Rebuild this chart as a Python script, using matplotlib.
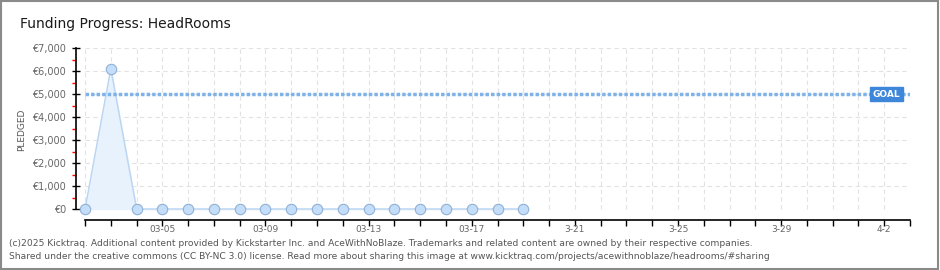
import matplotlib
matplotlib.use("Agg")
import matplotlib.pyplot as plt
from matplotlib.patches import Rectangle

# data (day 0 = 03-02)
days = list(range(18))
pledged = [0, 6100, 0, 0, 0, 0, 0, 0, 0, 0, 0, 0, 0, 0, 0, 0, 0, 0]
goal = 5000
n_days = 32
tick_labels = ["03-05", "03-09", "03-13", "03-17", "3-21", "3-25", "3-29", "4-2"]
tick_days = [3, 7, 11, 15, 19, 23, 27, 31]
y_ticks = [0, 1000, 2000, 3000, 4000, 5000, 6000, 7000]
y_labels = ["€0", "€1,000", "€2,000", "€3,000", "€4,000", "€5,000", "€6,000", "€7,000"]

fig = plt.figure(figsize=(9.4, 2.7), dpi=100)
fig.patch.set_facecolor("white")

# outer frame
fig.add_artist(Rectangle((0.001, 0.004), 0.997, 0.992, transform=fig.transFigure,
                         fill=False, edgecolor="#8a8a8a", linewidth=1.5))

ax = fig.add_axes([76 / 940, 1 - 220 / 270, (910 - 76) / 940, (220 - 48) / 270])
ax.set_xlim(-0.35, n_days)
ax.set_ylim(-478, 7000)

# grid
for d in range(n_days + 1):
    ax.plot([d, d], [0, 7000], color="#e2e2e2", lw=0.8, ls=(0, (4, 3)), zorder=0)
for v in y_ticks[1:]:
    ax.plot([0, n_days], [v, v], color="#e2e2e2", lw=0.8, ls=(0, (4, 3)), zorder=0)

# series
ax.fill_between(days, pledged, 0, color="#e8f2fc", zorder=1)
ax.plot(days, pledged, color="#b9d5f2", lw=1, zorder=2)
ax.plot(days, pledged, "o", ms=7.5, mfc="#c4defa", mec="#8fb0d6", mew=0.8, zorder=3)

# goal line
ax.plot([0, n_days], [goal, goal], color="#7fb2e8", lw=2.5, ls=(0, (1, 0.6)), zorder=2)
ax.text(31.1, goal, "GOAL", color="white", fontsize=6.5, ha="center", va="center",
        fontweight="bold", zorder=5,
        bbox=dict(boxstyle="square,pad=0.3", fc="#3d86d9", ec="#3d86d9"))

# spines / ticks
for s in ["top", "right"]:
    ax.spines[s].set_visible(False)
ax.spines["left"].set_bounds(0, 7000)
ax.spines["bottom"].set_bounds(0, n_days)
ax.spines["left"].set_linewidth(1.2)
ax.spines["bottom"].set_linewidth(1.2)

ax.set_xticks(range(n_days + 1))
ax.set_xticklabels([""] * (n_days + 1))
ax.tick_params(axis="x", direction="out", length=4, width=1)
for d, lab in zip(tick_days, tick_labels):
    ax.annotate(lab, xy=(d, 0), xycoords=("data", "axes fraction"), xytext=(0, -3.5),
                textcoords="offset points", ha="center", va="top", fontsize=6.5,
                color="#666666")

ax.set_yticks(y_ticks)
ax.set_yticklabels(y_labels, fontsize=7, color="#666666")
ax.set_yticks([500 + 1000 * i for i in range(7)], minor=True)
ax.tick_params(axis="y", which="major", direction="inout", length=6, width=1, pad=4)
ax.tick_params(axis="y", which="minor", direction="out", length=3, width=1, color="red")

fig.text(22 / 940, 1 - 130 / 270, "PLEDGED", rotation=90, ha="center", va="center",
         fontsize=6.5, color="#555555")

fig.text(20 / 940, 1 - 24 / 270, "Funding Progress: HeadRooms", fontsize=10,
         color="#1a1a1a", va="center", ha="left")

footer = ("(c)2025 Kicktraq. Additional content provided by Kickstarter Inc. and AceWithNoBlaze. "
          "Trademarks and related content are owned by their respective companies.\n"
          "Shared under the creative commons (CC BY-NC 3.0) license. Read more about sharing this "
          "image at www.kicktraq.com/projects/acewithnoblaze/headrooms/#sharing")
fig.text(9 / 940, 1 - 250 / 270, footer, fontsize=6.6, color="#555555", va="center",
         ha="left", linespacing=1.5)

fig.savefig("out.png", dpi=100)
